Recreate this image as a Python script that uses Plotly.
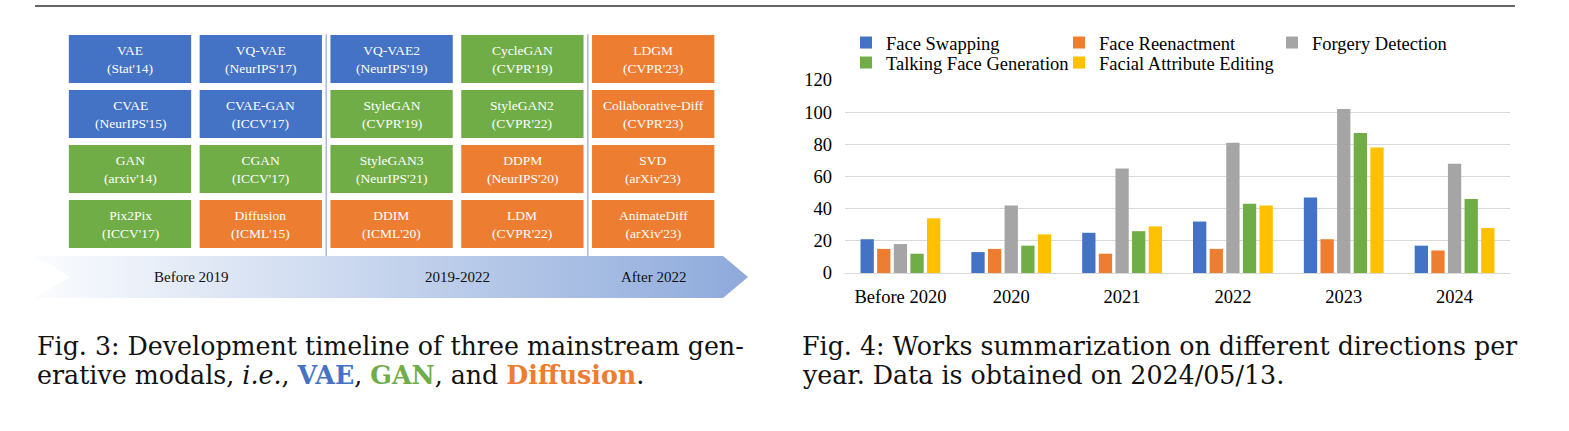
import plotly.graph_objects as go

W, H = 1569, 431

# ---------------- Fig. 4 data (bar chart) ----------------
years = ["Before 2020", "2020", "2021", "2022", "2023", "2024"]
face_swapping = [21, 13, 25, 32, 47, 17]
face_reenactment = [15, 15, 12, 15, 21, 14]
forgery_detection = [18, 42, 65, 81, 102, 68]
talking_face_generation = [12, 17, 26, 43, 87, 46]
facial_attribute_editing = [34, 24, 29, 42, 78, 28]
series_names = ["Face Swapping", "Face Reenactment", "Forgery Detection",
                "Talking Face Generation", "Facial Attribute Editing"]
series_values = [face_swapping, face_reenactment, forgery_detection,
                 talking_face_generation, facial_attribute_editing]
series_colors = ["#4472C4", "#ED7D31", "#A5A5A5", "#70AD47", "#FFC000"]
series_legend = ["legend", "legend", "legend", "legend2", "legend2"]
y_ticks = [0, 20, 40, 60, 80, 100, 120]

# ---------------- Fig. 3 data (timeline grid) ----------------
model_names = [
    ["VAE", "VQ-VAE", "VQ-VAE2", "CycleGAN", "LDGM"],
    ["CVAE", "CVAE-GAN", "StyleGAN", "StyleGAN2", "Collaborative-Diff"],
    ["GAN", "CGAN", "StyleGAN3", "DDPM", "SVD"],
    ["Pix2Pix", "Diffusion", "DDIM", "LDM", "AnimateDiff"],
]
model_venues = [
    ["Stat'14", "NeurIPS'17", "NeurIPS'19", "CVPR'19", "CVPR'23"],
    ["NeurIPS'15", "ICCV'17", "CVPR'19", "CVPR'22", "CVPR'23"],
    ["arxiv'14", "ICCV'17", "NeurIPS'21", "NeurIPS'20", "arXiv'23"],
    ["ICCV'17", "ICML'15", "ICML'20", "CVPR'22", "arXiv'23"],
]
model_families = [
    ["VAE", "VAE", "VAE", "GAN", "Diffusion"],
    ["VAE", "VAE", "GAN", "GAN", "Diffusion"],
    ["GAN", "GAN", "GAN", "Diffusion", "Diffusion"],
    ["GAN", "Diffusion", "Diffusion", "Diffusion", "Diffusion"],
]
family_colors = {"VAE": "#4472C4", "GAN": "#70AD47", "Diffusion": "#ED7D31"}
periods = ["Before 2019", "2019-2022", "After 2022"]
period_centers = [0.47, 2.5, 4.0]
period_separators = [1.5, 3.5]

SERIF = "Liberation Serif"
CAPTION_FONT = "DejaVu Serif"

fig = go.Figure()

# ---- timeline arrow (gradient band) in grid units ----
arrow_row = 3.964
arrow_half = 0.382
arrow_x = [-0.726, 4.534, 4.725, 4.534, -0.726, -0.459, -0.726]
arrow_y = [arrow_row - arrow_half, arrow_row - arrow_half, arrow_row,
           arrow_row + arrow_half, arrow_row + arrow_half, arrow_row,
           arrow_row - arrow_half]
fig.add_trace(go.Scatter(
    x=arrow_x, y=arrow_y, xaxis="x2", yaxis="y2", mode="lines",
    fill="toself", line=dict(width=0, color="rgba(0,0,0,0)"),
    fillgradient=dict(type="horizontal",
                      colorscale=[[0, "#fbfcfe"], [1, "#8eaadb"]]),
    hoverinfo="skip", showlegend=False))

# ---- bars ----
for i, (name, vals, col, lg) in enumerate(zip(series_names, series_values, series_colors, series_legend)):
    last_in_row = (i == 2 or i == 4)
    fig.add_trace(go.Bar(x=years, y=vals, name=name, marker=dict(color=col, line=dict(width=0)),
                         legend=lg, legendwidth=(240 if last_in_row else 168),
                         xaxis="x", yaxis="y"))

shapes = []
annotations = []

# top rule
shapes.append(dict(type="line", xref="paper", yref="paper",
                   x0=35 / W, x1=1515 / W, y0=1 - 6 / H, y1=1 - 6 / H,
                   line=dict(color="#333333", width=1.5)))

# boxes
hw, hh = 0.4675, 0.436
for r, (names, venues, fams) in enumerate(zip(model_names, model_venues, model_families)):
    for c, (nm, vn, fm) in enumerate(zip(names, venues, fams)):
        shapes.append(dict(type="rect", xref="x2", yref="y2",
                           x0=c - hw, x1=c + hw, y0=r - hh, y1=r + hh,
                           fillcolor=family_colors[fm], line=dict(width=0)))
        annotations.append(dict(xref="x2", yref="y2", x=c, y=r,
                                text=f"{nm}<br>({vn})", showarrow=False,
                                font=dict(family=SERIF, size=13.5, color="white")))

# separators
for sx in period_separators:
    shapes.append(dict(type="line", xref="x2", yref="y2", x0=sx, x1=sx,
                       y0=-0.45, y1=arrow_row - arrow_half,
                       line=dict(color="#a9bbdc", width=1.5)))

# period labels
for p, pc in zip(periods, period_centers):
    annotations.append(dict(xref="x2", yref="y2", x=pc, y=arrow_row, text=p,
                            showarrow=False, font=dict(family=SERIF, size=15, color="#111")))

# captions
cap_font = dict(family=CAPTION_FONT, size=25.3, color="#111")
cap_lines = [
    (35, 346, "Fig. 3: Development timeline of three mainstream gen-"),
    (35, 375, "erative modals, <i>i.e.</i>, <b><span style='color:#4472C4'>VAE</span></b>, "
              "<b><span style='color:#70AD47'>GAN</span></b>, and "
              "<b><span style='color:#ED7D31'>Diffusion</span></b>."),
    (800, 346, "Fig. 4: Works summarization on different directions per"),
    (800, 375, "year. Data is obtained on 2024/05/13."),
]
for px, py, t in cap_lines:
    annotations.append(dict(xref="paper", yref="paper", x=px / W, y=1 - py / H,
                            xanchor="left", yanchor="middle", text=t,
                            showarrow=False, font=cap_font))

legend_common = dict(orientation="h", xanchor="left", yanchor="middle",
                     entrywidth=168, entrywidthmode="pixels",
                     font=dict(family=SERIF, size=18.5, color="#000"),
                     bgcolor="rgba(0,0,0,0)", borderwidth=0)

fig.update_layout(
    width=W, height=H, margin=dict(l=0, r=0, t=0, b=0, autoexpand=False),
    paper_bgcolor="white", plot_bgcolor="rgba(0,0,0,0)",
    font=dict(family=SERIF, color="#000"),
    barmode="group", bargap=0.25, bargroupgap=0.2,
    xaxis=dict(domain=[845 / W, 1510 / W], anchor="y", type="category",
               showgrid=False, showline=False, zeroline=False, ticks="",
               tickfont=dict(family=SERIF, size=18.5, color="#000"),
               ticklabelstandoff=10, fixedrange=True, automargin=False),
    yaxis=dict(domain=[1 - 273 / H, 1 - 80 / H], anchor="x", range=[0, 120],
               tickvals=y_ticks, showgrid=True, gridcolor="#d9d9d9", gridwidth=1,
               zeroline=True, zerolinecolor="#d9d9d9", zerolinewidth=1,
               showline=False, ticks="",
               tickfont=dict(family=SERIF, size=18.5, color="#000"),
               ticklabelstandoff=12, fixedrange=True, automargin=False),
    xaxis2=dict(domain=[0, 0.5], anchor="y2", range=[-130 / 130.8, (784.5 - 130) / 130.8],
                visible=False, fixedrange=True),
    yaxis2=dict(domain=[0, 1], anchor="x2", range=[(431 - 59) / 55, -59 / 55],
                visible=False, fixedrange=True),
    legend=dict(x=846 / W, y=1 - 43 / H, **legend_common),
    legend2=dict(x=846 / W, y=1 - 63 / H, **legend_common),
    shapes=shapes, annotations=annotations,
)

fig.write_html("out.html", config={"displayModeBar": False},
               post_script="document.body.style.margin='0';document.body.style.overflow='hidden';")
